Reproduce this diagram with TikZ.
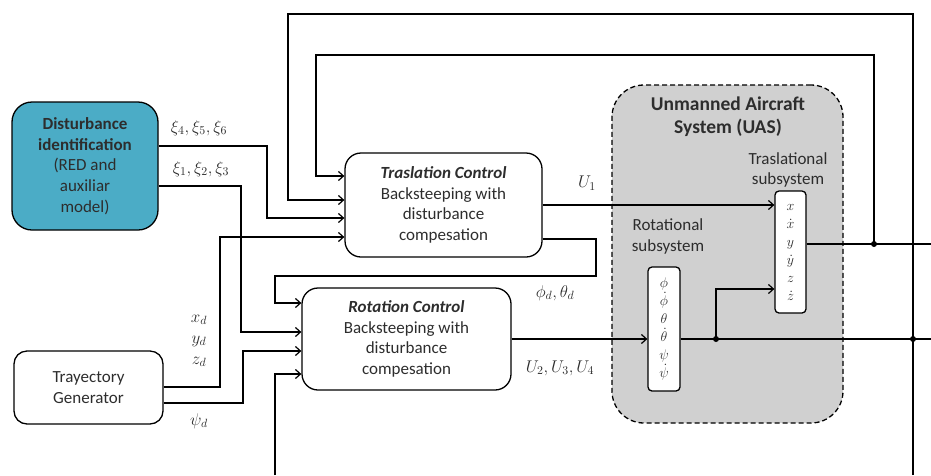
\RequirePackage{fix-cm}
\documentclass[tikz,border=0pt]{standalone}
\usepackage{fontspec}
\setmainfont{Carlito}
\usetikzlibrary{arrows.meta,calc}
\definecolor{teal1}{RGB}{75,172,198}
\definecolor{uasgray}{RGB}{208,208,208}
\definecolor{txt}{RGB}{45,45,45}
\begin{document}
\begin{tikzpicture}[x=1pt,y=-1pt,
  line width=1.3pt,
  arr/.style={-{Straight Barb[length=5pt,width=9pt,line width=1.2pt]}},
  blk/.style={draw,align=center,inner sep=0pt,text=txt,font=\fontsize{17}{20.7}\selectfont},
  lbl/.style={text=txt,inner sep=0pt,align=center,font=\fontsize{17}{20.7}\selectfont},
  vec/.style={draw,fill=white,rounded corners=4pt,inner sep=0pt,align=center,text=txt,font=\fontsize{14}{18}\selectfont},
  jdot/.style={circle,fill=black,inner sep=0pt,minimum size=6pt}
]
\useasboundingbox (0,0) rectangle (931,475);

% UAS container
\node[draw,dashed,dash pattern=on 5pt off 3pt,fill=uasgray,rounded corners=32pt,
      minimum width=231pt,minimum height=338pt,inner sep=0pt] (uas) at (727.5,254) {};
\node[lbl,font=\fontsize{19.5}{23}\selectfont\bfseries] (uastitle) at (728,116.5) {Unmanned Aircraft\\System (UAS)};
\node[lbl] (tlab) at (788,170) {Traslational\\subsystem};
\node[lbl] (rlab) at (668,236.5) {Rotational\\subsystem};

% blocks
\node[blk,fill=teal1,rounded corners=20pt,minimum width=146pt,minimum height=128pt] (dist) at (85,166)
  {\textbf{Disturbance}\\\textbf{identification}\\(RED and\\auxiliar\\model)};
\node[blk,rounded corners=16pt,minimum width=197pt,minimum height=104pt] (trans) at (443.5,205)
  {\textbf{\textit{Traslation Control}}\\Backsteeping with\\disturbance\\compesation};
\node[blk,rounded corners=16pt,minimum width=209pt,minimum height=102pt] (rot) at (406.5,339)
  {\textbf{\textit{Rotation Control}}\\Backsteeping with\\disturbance\\compesation};
\node[blk,rounded corners=13pt,minimum width=149pt,minimum height=73pt] (traj) at (88.5,387.5)
  {Trayectory\\Generator};
\node[vec,minimum width=31pt,minimum height=122pt] (tsub) at (790.5,252)
  {$x$\\$\dot x$\\$y$\\$\dot y$\\$z$\\$\dot z$};
\node[vec,minimum width=32pt,minimum height=124pt] (rsub) at (664,329)
  {$\phi$\\$\dot\phi$\\$\theta$\\$\dot\theta$\\$\psi$\\$\dot\psi$};

% labels
\node[lbl] (l456) at (199,128) {$\xi_4,\xi_5,\xi_6$};
\node[lbl] (l123) at (201,169) {$\xi_1,\xi_2,\xi_3$};
\node[lbl] (lxd) at (199,320) {$x_d$};
\node[lbl] (lyd) at (199,341) {$y_d$};
\node[lbl] (lzd) at (199,362) {$z_d$};
\node[lbl] (lpsi) at (199,421) {$\psi_d$};
\node[lbl] (lU1) at (587,183) {$U_1$};
\node[lbl] (lphi) at (555,293) {$\phi_d,\theta_d$};
\node[lbl] (lU2) at (560,368) {$U_2,U_3,U_4$};

% junctions
\coordinate (j1) at (716,339);
\coordinate (j2) at (913,339);
\coordinate (j3) at (874,244);
\coordinate (outA) at (931,244);
\coordinate (outB) at (931,339);
\coordinate (botR) at (913,475);
\coordinate (botL) at (275,475);

% connectors
\draw[arr] (dist.east |- 0,146) -| (267,218) -- (trans.west |- 0,218);
\draw[arr] (dist.east |- 0,186) -| (241,332) -- (rot.west |- 0,332);
\draw[arr] (traj.east |- 0,387) -| (220,237) -- (trans.west |- 0,237);
\draw[arr] (traj.east |- 0,403) -| (243,351) -- (rot.west |- 0,351);
\draw[arr] (trans.east |- 0,239) -| (596,276) -| (275,303) -- (rot.west |- 0,303);
\draw[arr] (trans.east |- 0,205) -- (tsub.west |- 0,205);
\draw[arr] (rot.east |- 0,339) -- (rsub.west |- 0,339);
\draw (rsub.east |- 0,339) -- (outB);
\draw[arr] (j1) |- (tsub.west |- 0,289);
\draw (tsub.east |- 0,244) -- (outA);
\draw[arr] (j3) |- (316,55) |- (trans.west |- 0,176);
\draw[arr] (botR) |- (288,14) |- (trans.west |- 0,200);
\draw[arr] (botL) |- (rot.west |- 0,374);

\node[jdot] at (j1) {};
\node[jdot] at (j2) {};
\node[jdot] at (j3) {};
\end{tikzpicture}
\end{document}
